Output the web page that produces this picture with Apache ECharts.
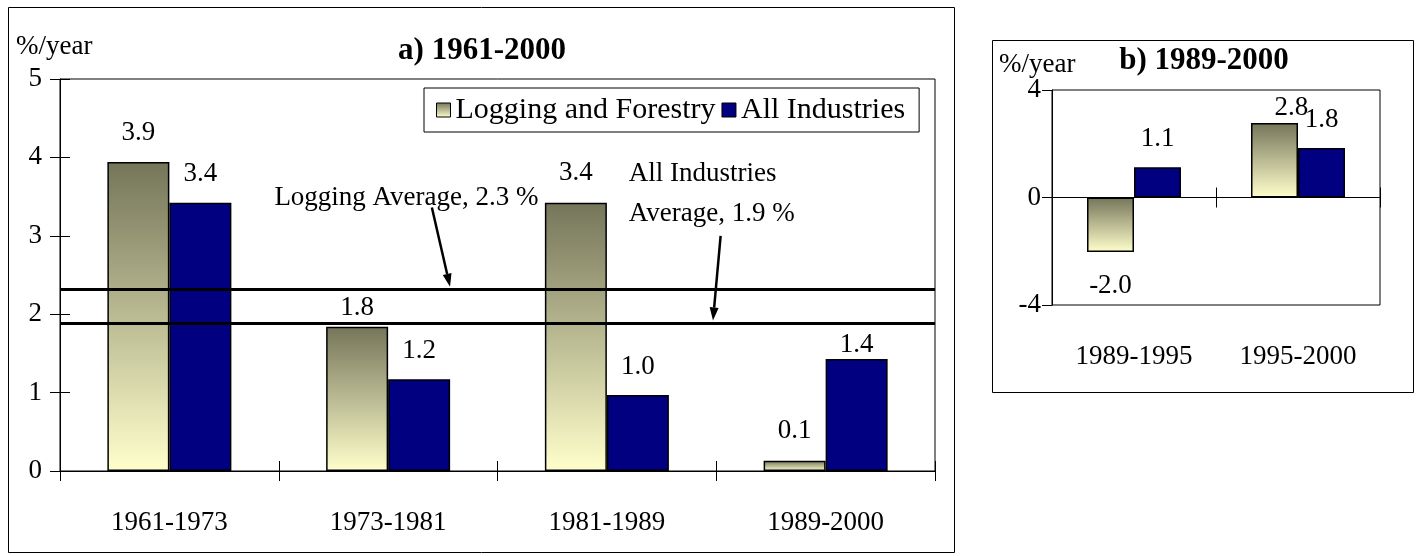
<!DOCTYPE html>
<html><head><meta charset="utf-8">
<script src="https://cdn.jsdelivr.net/npm/echarts@6/dist/echarts.min.js"></script>
<style>html,body{margin:0;padding:0;background:#fff}#c{width:1419px;height:556px}</style>
</head><body><div id="c"></div>
<script>
// ---- data ----
const categoriesA = ['1961-1973', '1973-1981', '1981-1989', '1989-2000'];
const loggingA = [3.94, 1.84, 3.42, 0.13];
const allIndustriesA = [3.42, 1.17, 0.97, 1.43];
const averagesA = [2.32, 1.89]; // Logging average, All Industries average
const yTicksA = [0, 1, 2, 3, 4, 5];

const categoriesB = ['1989-1995', '1995-2000'];
const loggingB = [-2.03, 2.77];
const allIndustriesB = [1.13, 1.84];
const yTicksB = [-4, 0, 4];

const seriesNames = ['Logging and Forestry', 'All Industries'];
// annotation anchors in data coordinates of panel a (x: 0..4 across categories)
const notes = [
  { text: 'Logging Average, 2.3 %', at: [0.98, 3.48], from: [1.70, 3.36], to: [1.783, 2.35] },
  { text: 'All Industries\nAverage, 1.9 %', at: [2.60, 3.535], from: [3.02, 3.0], to: [2.985, 1.92] }
];

// ---- style ----
const FONT = '"Liberation Serif","Times New Roman",serif';
const FS = 27;
const grad = { type: 'linear', x: 0, y: 0, x2: 0, y2: 1,
  colorStops: [{ offset: 0, color: '#75755a' }, { offset: 1, color: '#ffffcc' }] };
const NAVY = '#000080';
const fmt = p => Number(p.value).toFixed(1);
const labelBase = { show: true, position: 'top', distance: 15, formatter: fmt,
  fontFamily: FONT, fontSize: FS, color: '#000' };
// label distance tweaks (panel a), keyed by category index, to follow the reference's label placement
const labelDistA = { logging: { 1: 5 }, all: { 3: 0 } };

function withLabelDist(values, tweaks) {
  return values.map((v, i) => {
    if (v < 0) return { value: v, label: { position: 'bottom', distance: 20 } };
    if (tweaks && tweaks[i] != null) return { value: v, label: { distance: tweaks[i] } };
    return v;
  });
}

const chart = echarts.init(document.getElementById('c'), null, { renderer: 'canvas' });

const gridA = { left: 60, top: 79, width: 875, height: 392 };
const gridB = { left: 1052, top: 90, width: 328, height: 215 };

function valAxis(gi, ticks, opts) {
  return Object.assign({
    type: 'value', gridIndex: gi, position: 'left',
    min: ticks[0], max: ticks[ticks.length - 1], interval: ticks[1] - ticks[0],
    axisLine: { show: true, onZero: false, lineStyle: { color: '#000', width: 1 } },
    axisTick: { show: true, length: 10, lineStyle: { color: '#000', width: 1 } },
    axisLabel: { fontFamily: FONT, fontSize: FS, color: '#000', margin: 18 },
    splitLine: { show: false }
  }, opts);
}

function keepInside(g) {
  return function (p) {
    if (p.labelRect.y < g.top + 2) {
      return { y: g.top + 4, verticalAlign: 'top' };
    }
  };
}

const option = {
  backgroundColor: '#fff',
  animation: false,
  title: [
    { text: 'a) 1961-2000', left: 477, top: 30, textAlign: 'center',
      textStyle: { fontFamily: FONT, fontWeight: 'bold', fontSize: 31, color: '#000' } },
    { text: 'b) 1989-2000', left: 1199, top: 40, textAlign: 'center',
      textStyle: { fontFamily: FONT, fontWeight: 'bold', fontSize: 31, color: '#000' } }
  ],
  legend: {
    data: seriesNames, left: 424, top: 88, orient: 'horizontal',
    icon: 'rect', itemWidth: 14, itemHeight: 14, itemGap: 6,
    padding: [7, 14, 7, 12], borderColor: '#000', borderWidth: 1,
    textStyle: { fontFamily: FONT, fontSize: 30, color: '#000' },
    itemStyle: { borderColor: '#000', borderWidth: 1 }
  },
  grid: [
    Object.assign({ show: true, borderColor: '#000', borderWidth: 1, backgroundColor: 'transparent', outerBoundsMode: 'none' }, gridA),
    Object.assign({ show: true, borderColor: '#000', borderWidth: 1, backgroundColor: 'transparent', outerBoundsMode: 'none' }, gridB)
  ],
  xAxis: [
    { type: 'category', gridIndex: 0, position: 'bottom', data: categoriesA,
      axisLine: { show: true, lineStyle: { color: '#000', width: 1 } },
      axisTick: { show: true, length: 10, lineStyle: { color: '#000' } },
      axisLabel: { fontFamily: FONT, fontSize: FS, color: '#000', margin: 38 } },
    { type: 'category', gridIndex: 0, position: 'bottom', data: categoriesA,
      axisLine: { show: false },
      axisTick: { show: true, inside: true, length: 10, lineStyle: { color: '#000' } },
      axisLabel: { show: false } },
    { type: 'value', gridIndex: 0, position: 'bottom', min: 0, max: categoriesA.length, show: false },
    { type: 'category', gridIndex: 1, position: 'bottom', data: categoriesB,
      axisLine: { show: false, onZero: false }, axisTick: { show: false },
      axisLabel: { fontFamily: FONT, fontSize: FS, color: '#000', margin: 38 } },
    { type: 'category', gridIndex: 1, position: 'bottom', data: categoriesB,
      axisLine: { show: true, onZero: true, lineStyle: { color: '#000', width: 1 } },
      axisTick: { show: true, length: 10, lineStyle: { color: '#000' } },
      axisLabel: { show: false } },
    { type: 'category', gridIndex: 1, position: 'bottom', data: categoriesB,
      axisLine: { show: false, onZero: true, onZeroAxisIndex: 2 },
      axisTick: { show: true, inside: true, length: 10, lineStyle: { color: '#000' } },
      axisLabel: { show: false } }
  ],
  yAxis: [
    valAxis(0, yTicksA, {}),
    valAxis(0, yTicksA, { axisLine: { show: false, onZero: false },
      axisTick: { show: true, inside: true, length: 10, lineStyle: { color: '#000' } },
      axisLabel: { show: false } }),
    valAxis(1, yTicksB, { axisLabel: { fontFamily: FONT, fontSize: FS, color: '#000', margin: 11 } })
  ],
  series: [
    { name: seriesNames[0], type: 'bar', xAxisIndex: 0, yAxisIndex: 0,
      data: withLabelDist(loggingA, labelDistA.logging),
      barWidth: 62, barGap: '0%',
      itemStyle: { color: grad, borderColor: '#000', borderWidth: 1.5 },
      label: Object.assign({}, labelBase, { distance: 16 }),
      markLine: { silent: true, symbol: 'none', z: 10,
        label: { show: false },
        lineStyle: { color: '#000', width: 3, type: 'solid' },
        emphasis: { disabled: true },
        data: averagesA.map(v => ({ yAxis: v })) } },
    { name: seriesNames[1], type: 'bar', xAxisIndex: 0, yAxisIndex: 0,
      data: withLabelDist(allIndustriesA, labelDistA.all),
      barWidth: 62, barGap: '0%',
      itemStyle: { color: NAVY, borderColor: '#000', borderWidth: 1.5 },
      label: Object.assign({}, labelBase) },
    { name: seriesNames[0], type: 'bar', xAxisIndex: 3, yAxisIndex: 2,
      data: withLabelDist(loggingB),
      barWidth: 47, barGap: '0%',
      itemStyle: { color: grad, borderColor: '#000', borderWidth: 1.5 },
      label: Object.assign({}, labelBase), labelLayout: keepInside(gridB) },
    { name: seriesNames[1], type: 'bar', xAxisIndex: 3, yAxisIndex: 2,
      data: withLabelDist(allIndustriesB),
      barWidth: 47, barGap: '0%',
      itemStyle: { color: NAVY, borderColor: '#000', borderWidth: 1.5 },
      label: Object.assign({}, labelBase), labelLayout: keepInside(gridB) }
  ]
};
chart.setOption(option);

// ---- annotations, frames and unit labels ----
const toPx = pt => chart.convertToPixel({ xAxisIndex: 2, yAxisIndex: 0 }, pt);
const graphics = [
  { type: 'rect', silent: true, z: -1, shape: { x: 8.5, y: 7.5, width: 946, height: 545 },
    style: { fill: 'none', stroke: '#000', lineWidth: 1 } },
  { type: 'rect', silent: true, z: -1, shape: { x: 992.5, y: 40.5, width: 421, height: 352 },
    style: { fill: 'none', stroke: '#000', lineWidth: 1 } },
  { type: 'text', silent: true, x: 16, y: 47,
    style: { text: '%/year', fontFamily: FONT, fontSize: FS, fill: '#000', align: 'left', verticalAlign: 'middle' } },
  { type: 'text', silent: true, x: 999, y: 65,
    style: { text: '%/year', fontFamily: FONT, fontSize: FS, fill: '#000', align: 'left', verticalAlign: 'middle' } }
];
notes.forEach(n => {
  const a = toPx(n.at), p1 = toPx(n.from), p2 = toPx(n.to);
  graphics.push({ type: 'text', silent: true, x: a[0], y: a[1], z: 20,
    style: { text: n.text, fontFamily: FONT, fontSize: FS, lineHeight: 40, fill: '#000', align: 'left', verticalAlign: 'middle' } });
  const dx = p2[0] - p1[0], dy = p2[1] - p1[1], L = Math.hypot(dx, dy);
  const ux = dx / L, uy = dy / L, nx = -uy, ny = ux, hl = 13, hw = 4.5;
  const bx = p2[0] - ux * hl, by = p2[1] - uy * hl;
  graphics.push({ type: 'line', silent: true, z: 20,
    shape: { x1: p1[0], y1: p1[1], x2: bx, y2: by }, style: { stroke: '#000', lineWidth: 2.5 } });
  graphics.push({ type: 'polygon', silent: true, z: 20,
    shape: { points: [[p2[0], p2[1]], [bx + nx * hw, by + ny * hw], [bx - nx * hw, by - ny * hw]] },
    style: { fill: '#000' } });
});
chart.setOption({ graphic: graphics });
</script></body></html>
